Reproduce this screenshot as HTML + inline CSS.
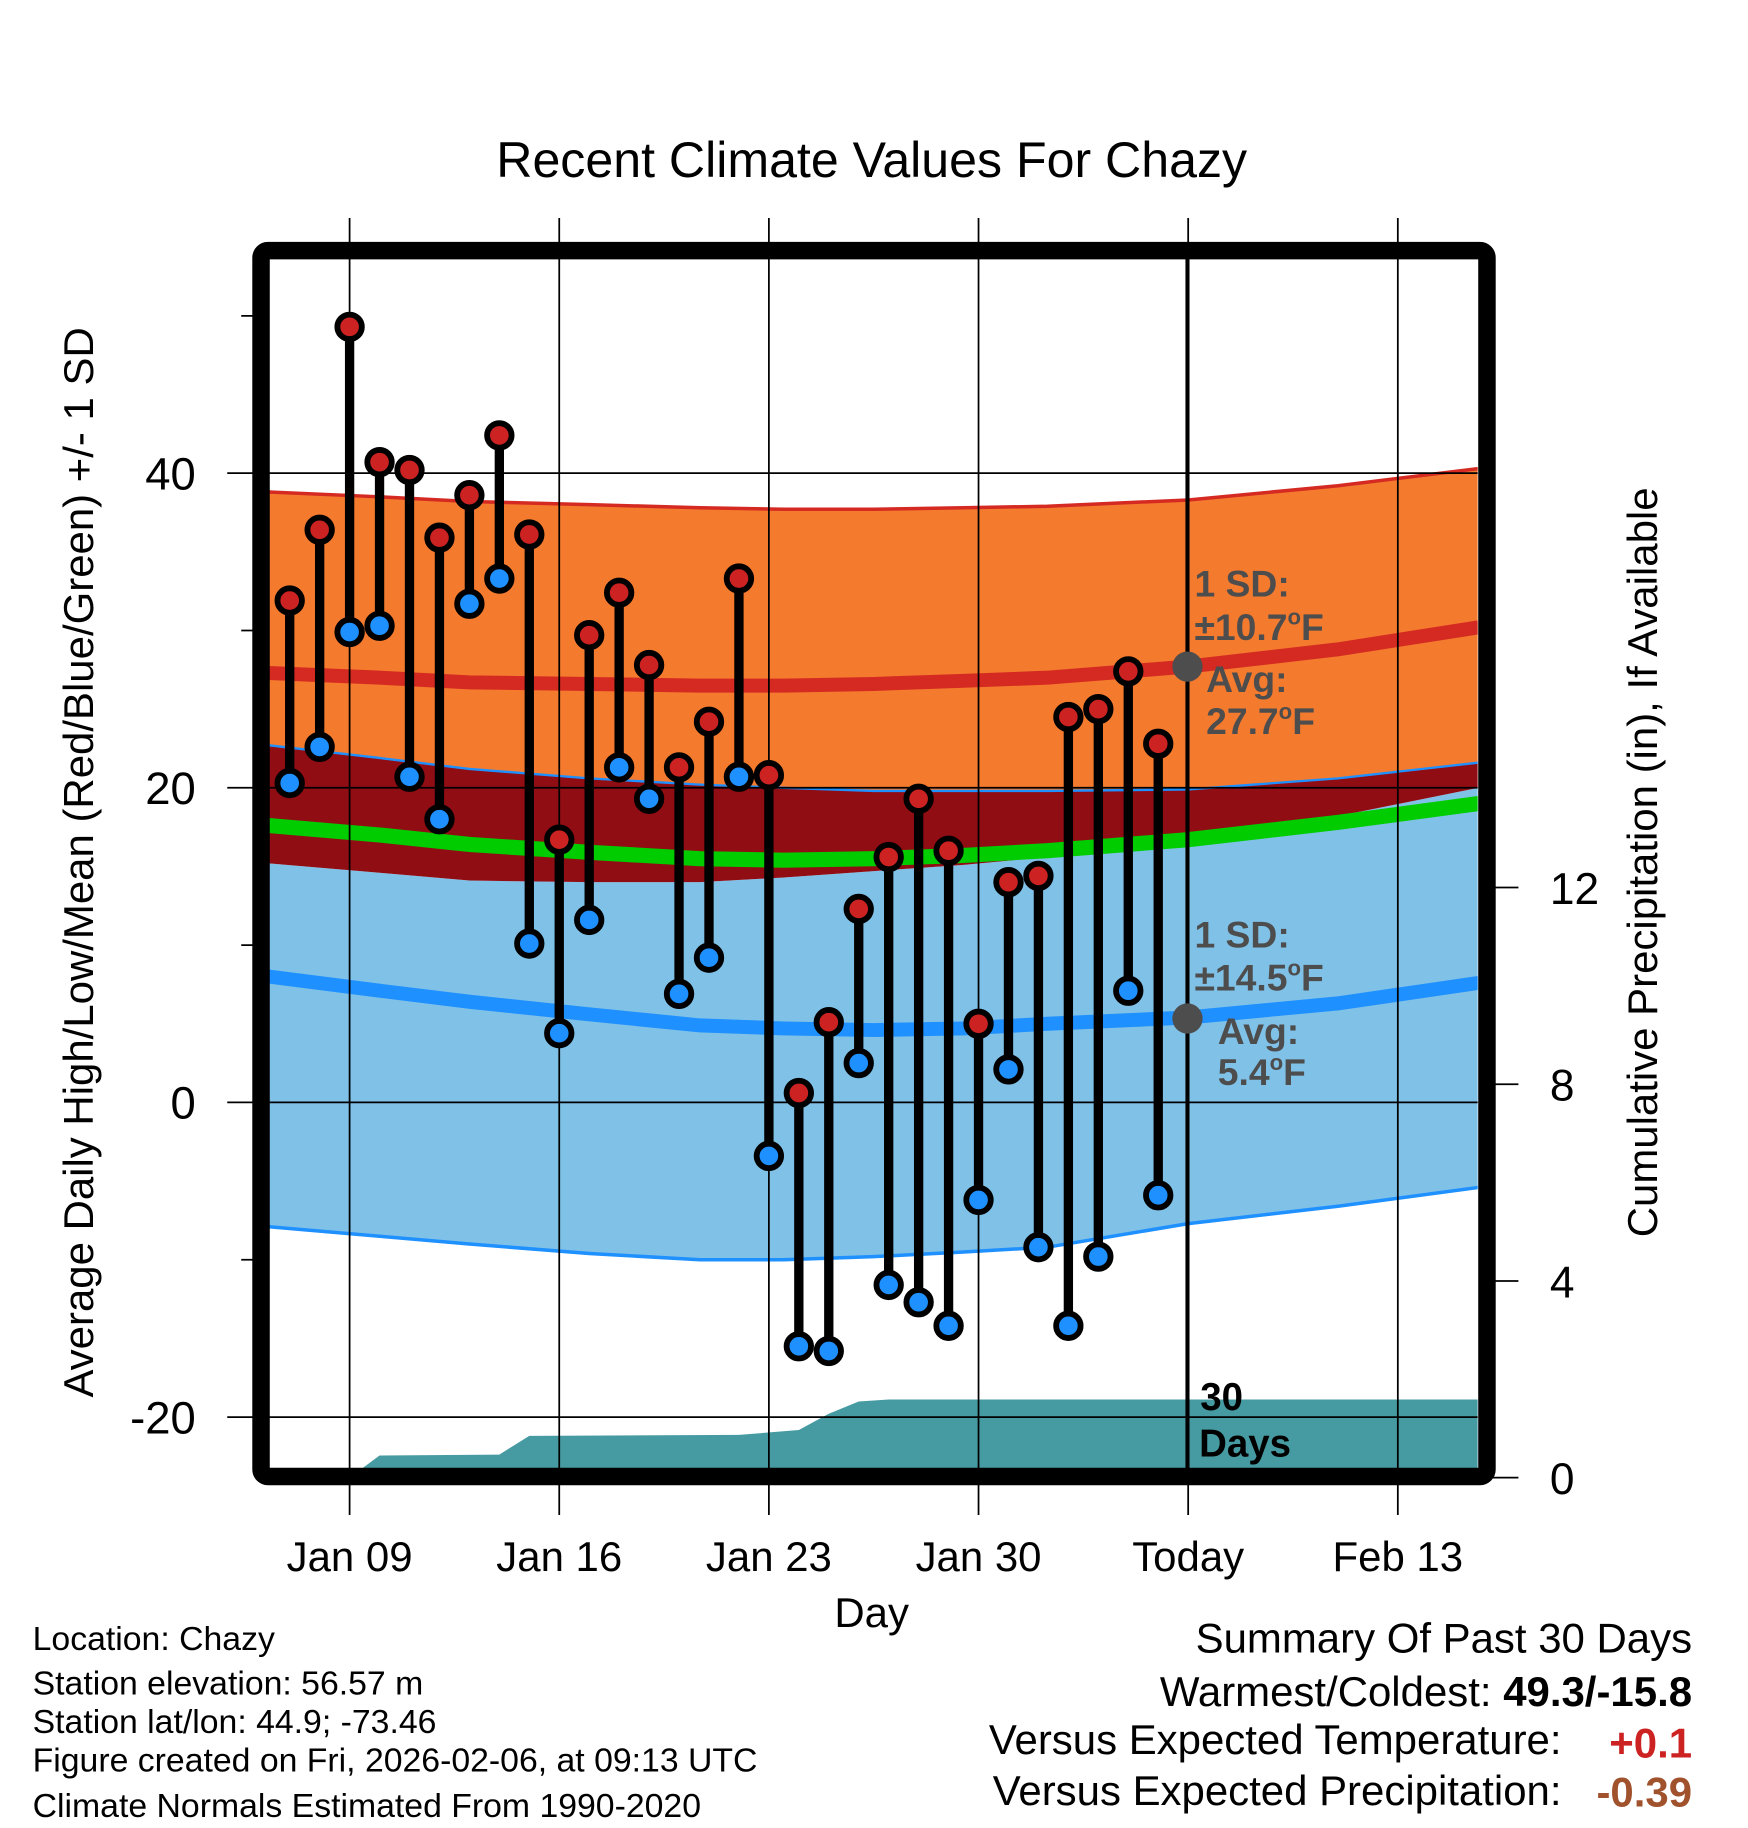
<!DOCTYPE html>
<html><head><meta charset="utf-8"><style>html,body{margin:0;padding:0;background:#fff}svg{display:block}text{font-family:"Liberation Sans",sans-serif}</style></head>
<body>
<svg id="chart" width="1748" height="1828" viewBox="0 0 1500 1568.6" xmlns="http://www.w3.org/2000/svg">
<g id="bands"></g><g id="grid"></g><g id="marks"></g><g id="overlay"></g>
</svg>
<script>
// ---- data ----
const dayLabels = ['Jan 07','Jan 08','Jan 09','Jan 10','Jan 11','Jan 12','Jan 13','Jan 14','Jan 15','Jan 16','Jan 17','Jan 18','Jan 19','Jan 20','Jan 21','Jan 22','Jan 23','Jan 24','Jan 25','Jan 26','Jan 27','Jan 28','Jan 29','Jan 30','Jan 31','Feb 01','Feb 02','Feb 03','Feb 04','Feb 05'];
const dayIdx = [-2,-1,0,1,2,3,4,5,6,7,8,9,10,11,12,13,14,15,16,17,18,19,20,21,22,23,24,25,26,27];
const highs = [31.9,36.4,49.3,40.7,40.2,35.9,38.6,42.4,36.1,16.7,29.7,32.4,27.8,21.3,24.2,33.3,20.8,0.6,5.1,12.3,15.6,19.3,16.0,5.0,14.0,14.4,24.5,25.0,27.4,22.8];
const lows = [20.3,22.6,29.9,30.3,20.7,18.0,31.7,33.3,10.1,4.4,11.6,21.3,19.3,6.9,9.2,20.7,-3.4,-15.5,-15.8,2.5,-11.6,-12.7,-14.2,-6.2,2.1,-9.2,-14.2,-9.8,7.1,-5.9];
const normDays = [-2.7,1,4,8,11.7,14.5,17.5,20.5,23.3,28,33,37.7];
const highUpper = [38.8,38.5,38.2,38.0,37.8,37.7,37.7,37.8,37.9,38.3,39.2,40.3];
const highAvg = [27.3,27.0,26.7,26.6,26.5,26.5,26.6,26.8,27.0,27.7,28.8,30.2];
const highLower = [22.7,21.9,21.2,20.6,20.2,20.0,19.8,19.8,19.8,19.9,20.6,21.6];
const lowUpper = [15.2,14.6,14.1,14.0,14.0,14.3,14.7,15.1,15.6,16.6,18.2,20.0];
const lowAvg = [8.0,7.1,6.4,5.6,4.9,4.7,4.6,4.7,5.0,5.4,6.3,7.6];
const lowLower = [-7.9,-8.5,-9.0,-9.6,-10.0,-10.0,-9.8,-9.5,-9.2,-7.7,-6.6,-5.4];
const meanAvg = [17.6,17.0,16.4,15.9,15.5,15.4,15.5,15.7,16.0,16.7,17.8,19.0];
const precipDays = [0,1,5,6,13,15,16,17,18,37.7];
const precipCum = [0,0.45,0.47,0.85,0.87,0.97,1.3,1.55,1.59,1.59];
const yTicks = [40,20,0,-20];
const yMinor = [50,30,10,-10];
const pTicks = [0,4,8,12];
const xTickDays = [0,7,14,21,28,35];
const xTickLabels = ['Jan 09','Jan 16','Jan 23','Jan 30','Today','Feb 13'];

// ---- scales ----
const L=231,R=1268,T=222,B=1260;
const X=d=>300+25.7*d;
const Y=v=>946-13.5*v;
const P=v=>1268-42.2*v;
const NS='http://www.w3.org/2000/svg';
function mk(parent,tag,attrs,txt){const e=document.createElementNS(NS,tag);for(const k in attrs)e.setAttribute(k,attrs[k]);if(txt!==undefined)e.textContent=txt;document.getElementById(parent).appendChild(e);return e;}
const pts=(ds,vs)=>ds.map((d,i)=>X(d).toFixed(1)+','+Y(vs[i]).toFixed(1));
function band(up,lo){return pts(normDays,up).concat(pts(normDays,lo).reverse()).join(' ');}

let e;
e=mk('bands','clipPath',{id:'clip'});e.innerHTML='<rect x="231" y="222" width="1037" height="1038"/>';
e=mk('bands','g',{id:'bandsC','clip-path':'url(#clip)'});


function bc(tag,a){const el=document.createElementNS(NS,tag);for(const k in a)el.setAttribute(k,a[k]);document.getElementById('bandsC').appendChild(el);return el;}
e=bc('polygon',{points:band(highUpper,highLower),fill:'#f47a2e'});


e=bc('polygon',{points:band(lowUpper,lowLower),fill:'#80c1e7'});


e=bc('polygon',{points:band(highLower,lowUpper),fill:'#900d14'});


e=bc('polyline',{points:pts(normDays,highUpper).join(' '),fill:'none',stroke:'#d42a22','stroke-width':3});


e=bc('polyline',{points:pts(normDays,highLower).join(' '),fill:'none',stroke:'#1e90ff','stroke-width':2});


e=bc('polyline',{points:pts(normDays,lowLower).join(' '),fill:'none',stroke:'#1e90ff','stroke-width':3});


e=bc('polyline',{points:pts(normDays,highAvg).join(' '),fill:'none',stroke:'#d42a22','stroke-width':12});


e=bc('polyline',{points:pts(normDays,lowAvg).join(' '),fill:'none',stroke:'#1e90ff','stroke-width':12});


e=bc('polyline',{points:pts(normDays,meanAvg).join(' '),fill:'none',stroke:'#00cc00','stroke-width':13});


const pp=precipDays.map((d,i)=>X(d).toFixed(1)+','+P(precipCum[i]).toFixed(1));
pp.push(X(precipDays[precipDays.length-1]).toFixed(1)+','+B);pp.push(X(0)+','+B);
e=bc('polygon',{points:pp.join(' '),fill:'#469aa2'});



// grid
yTicks.forEach(v=>{
  e=mk('grid','line',{x1:195,x2:R,y1:Y(v),y2:Y(v),stroke:'#000','stroke-width':1.5});
  
  
  e=mk('grid','text',{x:168,y:Y(v)+14,'text-anchor':'end','font-size':39},String(v));
  
  
});
yMinor.forEach(v=>{
  e=mk('grid','line',{x1:207,x2:222,y1:Y(v),y2:Y(v),stroke:'#000','stroke-width':1.5});
  
  
});
pTicks.forEach(v=>{
  e=mk('grid','line',{x1:1276,x2:1303,y1:P(v),y2:P(v),stroke:'#000','stroke-width':1.5});
  
  
  e=mk('grid','text',{x:1330,y:P(v)+14,'font-size':38},String(v));
  
  
});
xTickDays.forEach((d,i)=>{
  e=mk('grid','line',{x1:X(d),x2:X(d),y1:187,y2:1300,stroke:'#000','stroke-width':1.5});
  
  
  e=mk('grid','text',{x:X(d),y:1348,'text-anchor':'middle','font-size':36},xTickLabels[i]);
  
  
});

// marks
dayIdx.forEach((d,i)=>{
  e=mk('marks','line',{x1:X(d),x2:X(d),y1:Y(highs[i]),y2:Y(lows[i]),stroke:'#000','stroke-width':8});
  
  
});
dayIdx.forEach((d,i)=>{
  e=mk('marks','circle',{cx:X(d),cy:Y(highs[i]),r:10.5,fill:'#cc2222',stroke:'#000','stroke-width':5});
  
  
  e=mk('marks','circle',{cx:X(d),cy:Y(lows[i]),r:10.5,fill:'#1e90ff',stroke:'#000','stroke-width':5});
  
  
});
</script>
<svg style="position:absolute;left:0;top:0" width="1748" height="1828" viewBox="0 0 1500 1568.6" xmlns="http://www.w3.org/2000/svg">
<line x1="1019" y1="222" x2="1019" y2="1260" stroke="#000" stroke-width="3.5"/>
<rect x="224" y="215" width="1052" height="1052" rx="6" fill="none" stroke="#000" stroke-width="15"/>
<text x="748" y="152" text-anchor="middle" font-size="43">Recent Climate Values For Chazy</text>
<text transform="translate(80,740) rotate(-90)" text-anchor="middle" font-size="36">Average Daily High/Low/Mean (Red/Blue/Green) +/- 1 SD</text>
<text transform="translate(1422,740) rotate(-90)" text-anchor="middle" font-size="36">Cumulative Precipitation (in), If Available</text>
<text x="748" y="1396" text-anchor="middle" font-size="36">Day</text>
<g font-weight="bold" font-size="32" fill="#4d4d4d">
<text x="1025" y="512">1 SD:</text><text x="1025" y="549">±10.7<tspan font-size="19" dy="-13">o</tspan><tspan dy="13">F</tspan></text>
<text x="1035" y="594">Avg:</text><text x="1035" y="630">27.7<tspan font-size="19" dy="-13">o</tspan><tspan dy="13">F</tspan></text></g>
<circle cx="1019" cy="572" r="13" fill="#4d4d4d"/>
<g font-weight="bold" font-size="32" fill="#4d4d4d">
<text x="1025" y="813">1 SD:</text><text x="1025" y="850">±14.5<tspan font-size="19" dy="-13">o</tspan><tspan dy="13">F</tspan></text>
<text x="1045" y="896">Avg:</text><text x="1045" y="931">5.4<tspan font-size="19" dy="-13">o</tspan><tspan dy="13">F</tspan></text></g>
<circle cx="1019" cy="874" r="13" fill="#4d4d4d"/>
<g font-weight="bold" font-size="33"><text x="1030" y="1210">30</text><text x="1029" y="1250">Days</text></g>
<g font-size="29">
<text x="28" y="1416">Location: Chazy</text>
<text x="28" y="1454">Station elevation: 56.57 m</text>
<text x="28" y="1487">Station lat/lon: 44.9; -73.46</text>
<text x="28" y="1520">Figure created on Fri, 2026-02-06, at 09:13 UTC</text>
<text x="28" y="1559">Climate Normals Estimated From 1990-2020</text></g>
<g font-size="36">
<text x="1452" y="1418" text-anchor="end">Summary Of Past 30 Days</text>
<text x="1452" y="1464" text-anchor="end">Warmest/Coldest: <tspan font-weight="bold">49.3/-15.8</tspan></text>
<text x="1340" y="1505" text-anchor="end">Versus Expected Temperature:</text>
<text x="1452" y="1508" text-anchor="end" font-weight="bold" fill="#cc2222">+0.1</text>
<text x="1340" y="1549" text-anchor="end">Versus Expected Precipitation:</text>
<text x="1452" y="1550" text-anchor="end" font-weight="bold" fill="#a0522d">-0.39</text></g>
</svg>
</body></html>
